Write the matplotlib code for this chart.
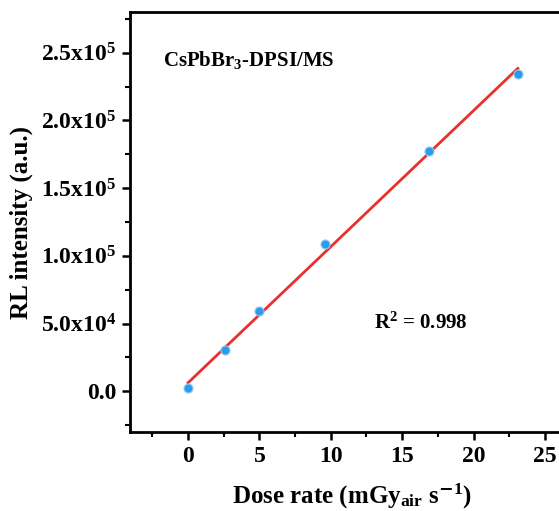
import numpy as np
import matplotlib
matplotlib.use("Agg")
import matplotlib.pyplot as plt
from matplotlib.ticker import MultipleLocator

dose = [0.0, 2.6, 4.95, 9.6, 16.9, 23.1]
intensity = [2200, 30200, 59000, 108400, 177700, 234500]

y_ticks = [0, 50000, 100000, 150000, 200000, 250000]
y_labels = ['0.0', '5.0x10$^{4}$', '1.0x10$^{5}$', '1.5x10$^{5}$', '2.0x10$^{5}$', '2.5x10$^{5}$']
x_ticks = [0, 5, 10, 15, 20, 25]

plt.rcParams['font.family'] = 'Liberation Serif'
plt.rcParams['font.weight'] = 'bold'
plt.rcParams['axes.labelweight'] = 'bold'
plt.rcParams['mathtext.fontset'] = 'custom'
plt.rcParams['mathtext.rm'] = 'Liberation Serif:bold'
plt.rcParams['mathtext.bf'] = 'Liberation Serif:bold'
plt.rcParams['mathtext.it'] = 'Liberation Serif:bold'
plt.rcParams['mathtext.default'] = 'bf'

fig = plt.figure(figsize=(5.59, 5.11), dpi=100)
ax = fig.add_axes([0.2326, 0.1546, 0.7934, 0.8219])

# linear fit
k, b = np.polyfit(dose, intensity, 1)
xf = np.array([min(dose), max(dose)])
ax.plot(xf, k * xf + b, color='#E8312F', lw=2, zorder=2)
ax.scatter(dose, intensity, s=42, color='#2E9BEA', edgecolors='#8CCBF5', linewidths=0.8, zorder=3)

ax.set_xlim(-4.06, 27)
ax.set_ylim(-30000, 280000)
ax.set_xticks(x_ticks)
ax.xaxis.set_minor_locator(MultipleLocator(2.5))
ax.set_yticks(y_ticks)
ax.set_yticklabels(y_labels)
ax.yaxis.set_minor_locator(MultipleLocator(25000))

for s in ax.spines.values():
    s.set_linewidth(2)
ax.tick_params(which='major', direction='out', length=6, width=1.8, labelsize=17, pad=4)
ax.tick_params(which='minor', direction='out', length=3.5, width=1.5)

ax.set_xlabel('Dose rate (mGy$_{air}$ s$^{\\mathsf{-}1}$)', fontsize=18, labelpad=11)
ax.set_ylabel('RL intensity (a.u.)', fontsize=18, labelpad=6)

ax.text(0.075, 0.885, 'CsPbBr$_{3}$-DPSI/MS', transform=ax.transAxes, fontsize=15, ha='left', va='center')
ax.text(0.55, 0.26, 'R$^{2}$ = 0.998', transform=ax.transAxes, fontsize=15, ha='left', va='center')

fig.savefig('out.png', dpi=100)
